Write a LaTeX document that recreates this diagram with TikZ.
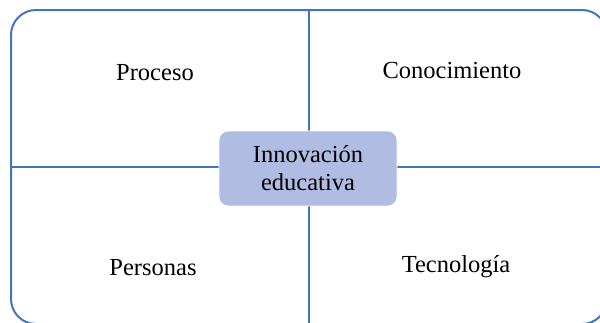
\documentclass[tikz,border=0pt]{standalone}
\usepackage{fontspec}
\setmainfont{Liberation Serif}
\definecolor{frameblue}{RGB}{68,114,196}
\definecolor{boxfill}{RGB}{176,188,226}
\begin{document}
\begin{tikzpicture}[x=1pt,y=-1pt,
  lbl/.style={font=\fontsize{24.5}{29}\selectfont, inner sep=0pt},
  framebox/.style={draw=frameblue, line width=2pt, rounded corners=25pt, minimum width=596pt, minimum height=314pt, inner sep=0pt},
  divider/.style={draw=frameblue, line width=2pt},
  centerbox/.style={fill=boxfill, draw=white, line width=0.8pt, rounded corners=9pt, minimum width=178pt, minimum height=75pt, align=center, font=\fontsize{24.5}{28}\selectfont, inner sep=0pt}]
\useasboundingbox (0,0) rectangle (600,322);
\node[framebox] (frame) at (309,167) {};
\draw[divider] (frame.north) -- (frame.south);
\draw[divider] (frame.west) -- (frame.east);
\node[centerbox] (center) at (308,168.5) {Innovación\\educativa};
\node[lbl] (proceso) at (155,73) {Proceso};
\node[lbl] (conoc) at (452,71) {Conocimiento};
\node[lbl] (personas) at (153,268) {Personas};
\node[lbl] (tecno) at (456,267) {Tecnología};
\end{tikzpicture}
\end{document}
